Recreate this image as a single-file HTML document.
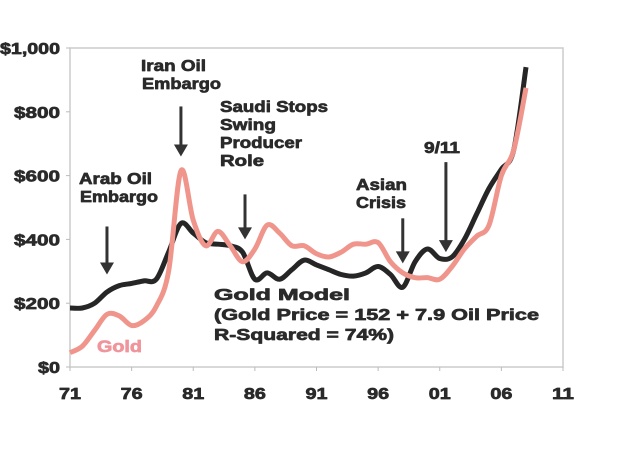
<!DOCTYPE html>
<html><head><meta charset="utf-8"><style>
html,body{margin:0;padding:0;background:#fff;}
svg{display:block;font-family:"Liberation Sans",Arial,sans-serif;font-weight:bold;}
text{stroke-width:0.7px;stroke-linejoin:round;}
</style></head><body>
<svg id="chart" width="620" height="450" viewBox="0 0 620 450" xmlns="http://www.w3.org/2000/svg">
<rect x="70" y="48" width="493" height="319" fill="none" stroke="#ccc" stroke-width="1.5"/>
<g id="axes"></g>
<g id="series"></g>
<g fill="#2a2a2a" stroke="#2a2a2a" font-size="16">
<text x="141" y="71" textLength="65" lengthAdjust="spacingAndGlyphs">Iran Oil</text>
<text x="142" y="89" textLength="79" lengthAdjust="spacingAndGlyphs">Embargo</text>
<text x="79" y="184" textLength="73" lengthAdjust="spacingAndGlyphs">Arab Oil</text>
<text x="80" y="202" textLength="78" lengthAdjust="spacingAndGlyphs">Embargo</text>
<text x="220" y="112" textLength="108" lengthAdjust="spacingAndGlyphs">Saudi Stops</text>
<text x="220" y="130" textLength="56" lengthAdjust="spacingAndGlyphs">Swing</text>
<text x="220" y="148" textLength="82" lengthAdjust="spacingAndGlyphs">Producer</text>
<text x="220" y="166" textLength="44" lengthAdjust="spacingAndGlyphs">Role</text>
<text x="356" y="190" textLength="51" lengthAdjust="spacingAndGlyphs">Asian</text>
<text x="356" y="208" textLength="50" lengthAdjust="spacingAndGlyphs">Crisis</text>
<text x="424" y="153" textLength="36" lengthAdjust="spacingAndGlyphs">9/11</text>
<text x="214" y="300" textLength="136" lengthAdjust="spacingAndGlyphs">Gold Model</text>
<text x="214" y="320" textLength="325" lengthAdjust="spacingAndGlyphs">(Gold Price = 152 + 7.9 Oil Price</text>
<text x="214" y="340" textLength="180" lengthAdjust="spacingAndGlyphs">R-Squared = 74%)</text>
<text x="97" y="352" fill="#f0959b" stroke="#f0959b" font-size="17" textLength="45" lengthAdjust="spacingAndGlyphs">Gold</text>
</g>
<g id="arrows"></g>
</svg>
<script>
const years=[71,72,73,74,75,76,77,78,79,80,81,82,83,84,85,86,87,88,89,90,91,92,93,94,95,96,97,98,99,100,101,102,103,104,105,106,107,108];
const modelValues=[185,185,200,235,255,262,270,275,360,450,420,390,385,380,360,275,295,275,305,335,320,305,290,285,295,315,290,250,330,370,340,345,400,480,560,620,680,940];
const goldValues=[45,65,115,165,160,130,145,190,300,615,460,380,425,380,330,370,445,420,380,380,355,345,360,385,385,390,330,295,280,280,275,315,370,410,445,600,680,875];
const xTickLabels=["71","76","81","86","91","96","01","06","11"];
const xTickYears=[71,76,81,86,91,96,101,106,111];
const yTicks=[0,200,400,600,800,1000];
const yTickLabels=["$0","$200","$400","$600","$800","$1,000"];
const arrowYears=[74,80,85.2,98,101.5];
const arrowTips=[290,660,400,325,360];
const arrowLens=[48,50,45,45,90];

const NS="http://www.w3.org/2000/svg";
const X0=70,X1=563,Y0=367,Y1=48;
const xs=y=>X0+(y-71)/(111-71)*(X1-X0);
const ys=v=>Y0-v/1000*(Y0-Y1);
function mk(tag,attrs,parent){const e=document.createElementNS(NS,tag);for(const k in attrs)e.setAttribute(k,attrs[k]);parent.appendChild(e);return e;}
const axes=document.getElementById('axes');
const yLabelW=[22,46,46,46,46,60];
yTicks.forEach((v,i)=>{
  const t=mk('text',{x:60,y:ys(v)+6,'text-anchor':'end','font-size':'16',fill:'#2a2a2a',stroke:'#2a2a2a',textLength:yLabelW[i],lengthAdjust:'spacingAndGlyphs'},axes);
  t.textContent=yTickLabels[i];
  
  
  const l=mk('line',{x1:66,x2:70,y1:ys(v),y2:ys(v),stroke:'#bbb'},axes);
  
  
});
xTickYears.forEach((yr,i)=>{
  const t=mk('text',{x:xs(yr),y:399,'text-anchor':'middle','font-size':'16',fill:'#2a2a2a',stroke:'#2a2a2a',textLength:22,lengthAdjust:'spacingAndGlyphs'},axes);
  t.textContent=xTickLabels[i];
  
  
  const l=mk('line',{x1:xs(yr),x2:xs(yr),y1:367,y2:371,stroke:'#bbb'},axes);
  
  
});
function smooth(vals){
  const p=years.map((y,i)=>[xs(y),ys(vals[i])]);
  let d='M'+p[0][0]+','+p[0][1];
  for(let i=0;i<p.length-1;i++){
    const p0=p[i-1]||p[i],p1=p[i],p2=p[i+1],p3=p[i+2]||p2;
    const c1=[p1[0]+(p2[0]-p0[0])/6,p1[1]+(p2[1]-p0[1])/6];
    const c2=[p2[0]-(p3[0]-p1[0])/6,p2[1]-(p3[1]-p1[1])/6];
    d+=' C'+c1+' '+c2+' '+p2;
  }
  return d;
}
const series=document.getElementById('series');
const m=mk('path',{d:smooth(modelValues),fill:'none',stroke:'#262626','stroke-width':5,'stroke-linejoin':'round'},series);


const g=mk('path',{d:smooth(goldValues),fill:'none',stroke:'#f0958c','stroke-width':5,'stroke-linejoin':'round'},series);


const arrows=document.getElementById('arrows');
arrowYears.forEach((yr,i)=>{
  const x=xs(yr),yt=ys(arrowTips[i]);
  const l=mk('line',{x1:x,x2:x,y1:yt-arrowLens[i],y2:yt-8,stroke:'#333','stroke-width':3},arrows);
  
  
  const h=mk('polygon',{points:`${x-7},${yt-12} ${x+7},${yt-12} ${x},${yt}`,fill:'#333'},arrows);
  
  
});
</script>
</body></html>
